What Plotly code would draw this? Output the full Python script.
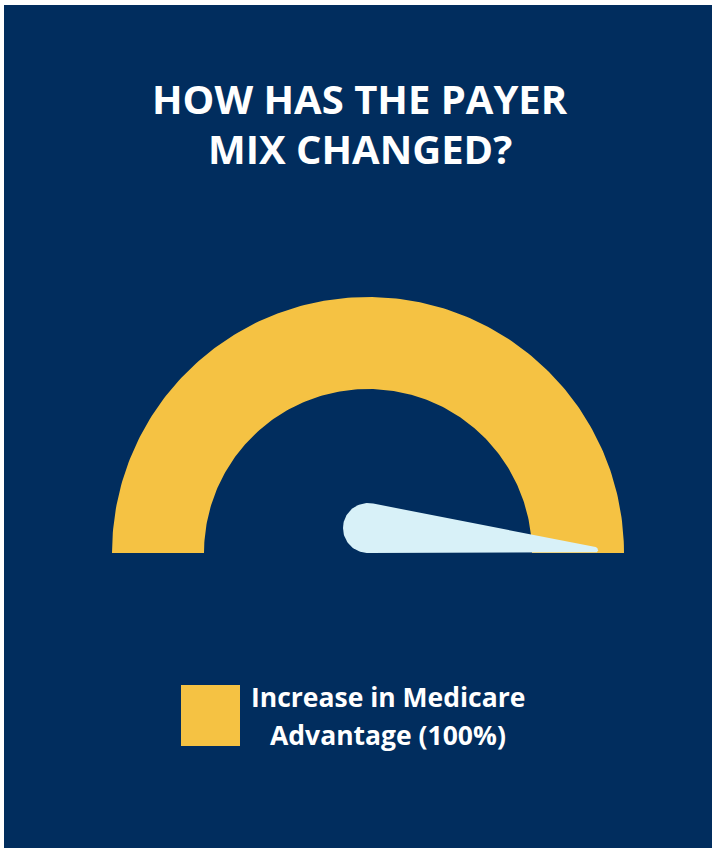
import math
import plotly.graph_objects as go

# ---- data ----
title_lines = ["HOW HAS THE PAYER", "MIX CHANGED?"]
series_name = "Increase in Medicare Advantage"
series_value = 100          # percent
gauge_max = 100

# ---- styling ----
NAVY = "#012D5E"
GOLD = "#F5C243"
NEEDLE = "#D8F1F8"
WHITE = "#FFFFFF"
FONT = "Open Sans"

W, H = 712, 848
CX, CY = 368, 553            # gauge centre in page pixels
R_OUT, R_IN = 256, 164       # gauge ring radii
HUB_R, TIP_R, NEEDLE_LEN = 25, 3, 230


def arc(r, a0, a1, n=200):
    pts = []
    for i in range(n + 1):
        a = math.radians(a0 + (a1 - a0) * i / n)
        pts.append((r * math.cos(a), r * math.sin(a)))
    return pts


# filled ring from 180 deg (0%) to the value angle
end_angle = 180 - 180 * series_value / gauge_max
outer = arc(R_OUT, 180, end_angle)
inner = arc(R_IN, end_angle, 180)
ring = outer + inner + [outer[0]]


def circle(cx, cy, r, n=120):
    return [(cx + r * math.cos(2 * math.pi * k / n), cy + r * math.sin(2 * math.pi * k / n)) for k in range(n)]


def hull(points):
    pts = sorted(set(points))
    def cross(o, a, b):
        return (a[0] - o[0]) * (b[1] - o[1]) - (a[1] - o[1]) * (b[0] - o[0])
    lower, upper = [], []
    for p in pts:
        while len(lower) >= 2 and cross(lower[-2], lower[-1], p) <= 0:
            lower.pop()
        lower.append(p)
    for p in reversed(pts):
        while len(upper) >= 2 and cross(upper[-2], upper[-1], p) <= 0:
            upper.pop()
        upper.append(p)
    return lower[:-1] + upper[:-1]


# needle: hub circle and rounded tip, both resting on the needle's base line
needle_pts = hull(circle(0, HUB_R, HUB_R) + circle(NEEDLE_LEN - TIP_R, TIP_R, TIP_R))
theta = math.radians(end_angle)
needle = [(x * math.cos(theta) - y * math.sin(theta), x * math.sin(theta) + y * math.cos(theta)) for x, y in needle_pts]
needle.append(needle[0])

fig = go.Figure()
fig.add_trace(go.Scatter(
    x=[p[0] for p in ring], y=[p[1] for p in ring],
    fill="toself", fillcolor=GOLD, mode="lines", line=dict(width=0, color=GOLD),
    hoverinfo="skip", showlegend=False,
))
fig.add_trace(go.Scatter(
    x=[p[0] for p in needle], y=[p[1] for p in needle],
    fill="toself", fillcolor=NEEDLE, mode="lines", line=dict(width=0, color=NEEDLE),
    hoverinfo="skip", showlegend=False,
))

# navy panel
fig.add_shape(type="rect", xref="paper", yref="paper",
              x0=4 / W, x1=1, y0=0, y1=1 - 5 / H,
              fillcolor=NAVY, line=dict(width=0), layer="below")

# title, one annotation per line
for line, ypx in zip(title_lines, [98, 148]):
    fig.add_annotation(xref="paper", yref="paper", x=360 / W, y=1 - ypx / H,
                       text=line, showarrow=False,
                       font=dict(family=FONT, size=40, color=WHITE, weight="bold"),
                       xanchor="center", yanchor="middle")

# legend swatch + label
fig.add_shape(type="rect", xref="paper", yref="paper",
              x0=181 / W, x1=240 / W, y0=1 - 746 / H, y1=1 - 685 / H,
              fillcolor=GOLD, line=dict(width=0))
words = series_name.split(" ")
label_lines = [" ".join(words[:3]), " ".join(words[3:]) + f" ({series_value}%)"]
for line, ypx in zip(label_lines, [697, 735]):
    fig.add_annotation(xref="paper", yref="paper", x=388 / W, y=1 - ypx / H,
                       text=line, showarrow=False,
                       font=dict(family=FONT, size=26.5, color=WHITE, weight="bold"),
                       xanchor="center", yanchor="middle")

fig.update_layout(
    width=W, height=H,
    margin=dict(l=0, r=0, t=0, b=0),
    paper_bgcolor=WHITE, plot_bgcolor="rgba(0,0,0,0)",
    xaxis=dict(range=[-CX, W - CX], visible=False, fixedrange=True),
    yaxis=dict(range=[CY - H, CY], visible=False, fixedrange=True),
    showlegend=False,
)

fig.write_html("out.html")
